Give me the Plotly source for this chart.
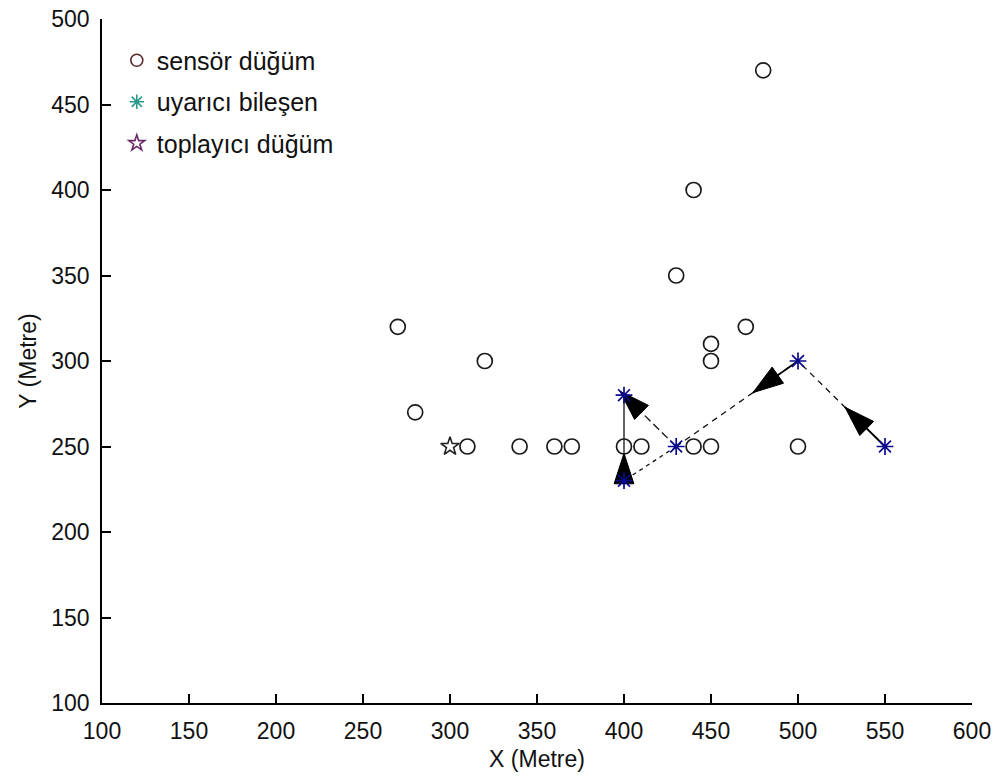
import math
import plotly.graph_objects as go

# Sensor nodes (X, Y in metres)
sensor_x = [270, 280, 320, 310, 340, 360, 370, 400, 410, 440, 450, 430, 440, 480, 450, 450, 470, 500]
sensor_y = [320, 270, 300, 250, 250, 250, 250, 250, 250, 250, 250, 350, 400, 470, 310, 300, 320, 250]

# Warning component positions
warn_x = [550, 500, 430, 400, 400]
warn_y = [250, 300, 250, 230, 280]

# Sink node
sink_x = [300]
sink_y = [250]

# Movement segments of the warning component
move_from_x = [550, 500, 430, 400, 430]
move_from_y = [250, 300, 250, 230, 250]
move_to_x = [500, 430, 400, 400, 400]
move_to_y = [300, 250, 230, 280, 280]
# where along each segment the arrow tip sits (None = no head)
head_frac = [0.46, 0.37, None, 0.32, 1.08]
# whether the part before the head is drawn solid
solid_shaft = [True, True, False, True, False]
# dash style for each segment
seg_dash = ["6px,5px", "6px,5px", "4px,4px", "solid", "8px,4px"]

AX = "#000000"
FONT = "Liberation Sans, Arial, sans-serif"
# pixels per data unit, used to orient arrow heads on screen
PX_X = 870 / 500
PX_Y = 684 / 400

fig = go.Figure()

# movement lines
for x0, y0, x1, y1, d in zip(move_from_x, move_from_y, move_to_x, move_to_y, seg_dash):
    fig.add_trace(go.Scatter(x=[x0, x1], y=[y0, y1], mode="lines",
                             line=dict(color="#111111", width=1.3, dash=d),
                             showlegend=False, hoverinfo="skip"))

# solid shafts and arrow heads
head_x, head_y, head_ang = [], [], []
for x0, y0, x1, y1, f, s in zip(move_from_x, move_from_y, move_to_x, move_to_y, head_frac, solid_shaft):
    if f is None:
        continue
    hx = x0 + (x1 - x0) * f
    hy = y0 + (y1 - y0) * f
    if s:
        fig.add_trace(go.Scatter(x=[x0, hx], y=[y0, hy], mode="lines",
                                 line=dict(color="#000000", width=1.8),
                                 showlegend=False, hoverinfo="skip"))
    head_x.append(hx)
    head_y.append(hy)
    head_ang.append(math.degrees(math.atan2((x1 - x0) * PX_X, (y1 - y0) * PX_Y)))

fig.add_trace(go.Scatter(x=head_x, y=head_y, mode="markers",
                         marker=dict(symbol="arrow", size=32, angle=head_ang,
                                     color="#000000",
                                     line=dict(width=1, color="#000000")),
                         showlegend=False, hoverinfo="skip"))

# plotted markers
fig.add_trace(go.Scatter(x=sensor_x, y=sensor_y, mode="markers",
                         marker=dict(symbol="circle-open", size=15,
                                     color="#1a1a1a", line=dict(width=1.7)),
                         showlegend=False, hoverinfo="skip"))
fig.add_trace(go.Scatter(x=warn_x, y=warn_y, mode="markers",
                         marker=dict(symbol="asterisk-open", size=14,
                                     color="#0a0a8c", line=dict(width=1.7, color="#0a0a8c")),
                         showlegend=False, hoverinfo="skip"))
fig.add_trace(go.Scatter(x=sink_x, y=sink_y, mode="markers",
                         marker=dict(symbol="star-open", size=14,
                                     color="#222222", line=dict(width=1.6)),
                         showlegend=False, hoverinfo="skip"))

# legend entries
legend_items = [
    ("sensör düğüm", "circle-open", "#5a2a2a", 12),
    ("uyarıcı bileşen", "asterisk-open", "#2a9a8a", 12),
    ("toplayıcı düğüm", "star-open", "#6a2a6a", 12),
]
for k, (name, sym, col, sz) in enumerate(legend_items):
    fig.add_trace(go.Scatter(x=[None], y=[None], mode="markers", name=name,
                             legendgroup=f"g{k}",
                             marker=dict(symbol=sym, size=sz, color=col,
                                         line=dict(width=1.6, color=col))))

axis_common = dict(
    showline=True, linecolor=AX, linewidth=1.8, mirror=False,
    ticks="inside", ticklen=9, tickwidth=1.5, tickcolor=AX,
    showgrid=False, zeroline=False, automargin=False,
    tickfont=dict(family=FONT, size=23, color="#111111"),
    ticklabelstandoff=6,
)

fig.update_layout(
    width=996, height=778,
    margin=dict(l=102, r=24, t=19, b=75, autoexpand=False),
    paper_bgcolor="white", plot_bgcolor="white",
    font=dict(family=FONT, size=23, color="#111111"),
    xaxis=dict(range=[100, 600], tickvals=list(range(100, 601, 50)),
               title=dict(text="X (Metre)", font=dict(family=FONT, size=23), standoff=8),
               **axis_common),
    yaxis=dict(range=[100, 500], tickvals=list(range(100, 501, 50)),
               title=dict(text="Y (Metre)", font=dict(family=FONT, size=23), standoff=8),
               **axis_common),
    legend=dict(x=0.017, y=0.973, xanchor="left", yanchor="top",
                bgcolor="rgba(0,0,0,0)", traceorder="grouped",
                tracegroupgap=6, itemwidth=30,
                font=dict(family=FONT, size=25, color="#111111")),
    showlegend=True,
)

fig.write_html("out.html")
